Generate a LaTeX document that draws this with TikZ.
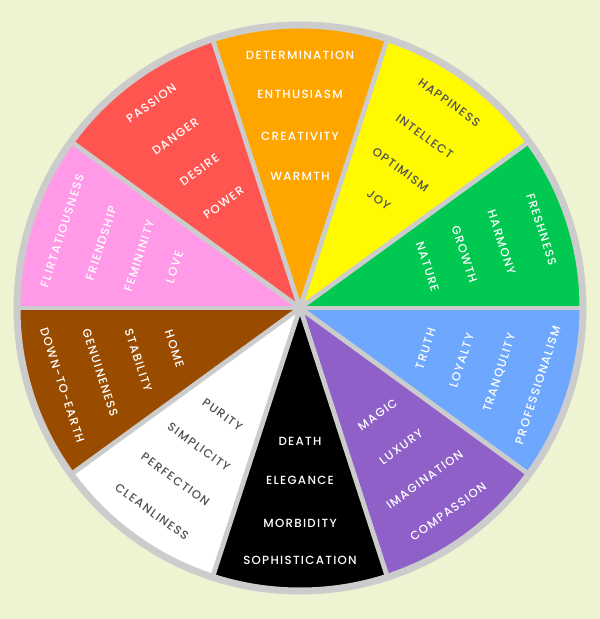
\documentclass[tikz,border=0pt]{standalone}
\usepackage{fontspec}
\setmainfont{Poppins Medium}[LetterSpace=11]
\definecolor{bg}{RGB}{238,243,210}
\definecolor{ring}{RGB}{204,204,204}
\definecolor{corange}{RGB}{255,165,0}
\definecolor{cred}{RGB}{255,85,80}
\definecolor{cpink}{RGB}{255,153,232}
\definecolor{cbrown}{RGB}{153,76,0}
\definecolor{cwhite}{RGB}{255,255,255}
\definecolor{cblack}{RGB}{0,0,0}
\definecolor{cpurple}{RGB}{142,96,200}
\definecolor{cblue}{RGB}{110,168,254}
\definecolor{cgreen}{RGB}{0,200,80}
\definecolor{cyellow}{RGB}{255,250,0}
\definecolor{darktext}{RGB}{80,80,80}
\tikzset{
  lbl/.style={font=\fontsize{11.8}{13}\selectfont, text=white, inner sep=0pt, anchor=center},
  dlbl/.style={lbl, text=darktext},
  sep/.style={draw=ring, line width=4.8pt},
}
\begin{document}
\begin{tikzpicture}[x=1pt,y=1pt]
\fill[bg] (0,0) rectangle (600,619);
\useasboundingbox (0,0) rectangle (600,619);
\begin{scope}[shift={(300,311)}]
\coordinate (c) at (0,0);
% sectors
\fill[corange] (c) -- (72:283) arc[start angle=72, end angle=108, radius=283] -- cycle;
\fill[cred]    (c) -- (108:283) arc[start angle=108, end angle=144, radius=283] -- cycle;
\fill[cpink]   (c) -- (144:283) arc[start angle=144, end angle=180, radius=283] -- cycle;
\fill[cbrown]  (c) -- (180:283) arc[start angle=180, end angle=216, radius=283] -- cycle;
\fill[cwhite]  (c) -- (216:283) arc[start angle=216, end angle=252, radius=283] -- cycle;
\fill[cblack]  (c) -- (252:283) arc[start angle=252, end angle=288, radius=283] -- cycle;
\fill[cpurple] (c) -- (288:283) arc[start angle=288, end angle=324, radius=283] -- cycle;
\fill[cblue]   (c) -- (324:283) arc[start angle=324, end angle=360, radius=283] -- cycle;
\fill[cgreen]  (c) -- (0:283) arc[start angle=0, end angle=36, radius=283] -- cycle;
\fill[cyellow] (c) -- (36:283) arc[start angle=36, end angle=72, radius=283] -- cycle;
% separators
\foreach \a in {0,36,...,324} { \draw[sep] (c) -- (\a:283); }
\draw[draw=ring, line width=7pt] (c) circle[radius=283];
% orange
\node[lbl] (o1) at (90:253) {DETERMINATION};
\node[lbl] (o2) at (90:214) {ENTHUSIASM};
\node[lbl] (o3) at (90:172) {CREATIVITY};
\node[lbl] (o4) at (90:132) {WARMTH};
% red
\node[lbl, rotate=36] (r1) at (126:253) {PASSION};
\node[lbl, rotate=36] (r2) at (126:212) {DANGER};
\node[lbl, rotate=36] (r3) at (126:171) {DESIRE};
\node[lbl, rotate=36] (r4) at (126:130) {POWER};
% pink
\node[lbl, rotate=72] (p1) at (162:250) {FLIRTATIOUSNESS};
\node[lbl, rotate=72] (p2) at (162:209) {FRIENDSHIP};
\node[lbl, rotate=72] (p3) at (162:169) {FEMININITY};
\node[lbl, rotate=72] (p4) at (162:132) {LOVE};
% brown
\node[lbl, rotate=-72] (b1) at (198:250) {DOWN-TO-EARTH};
\node[lbl, rotate=-72] (b2) at (198:210) {GENUINENESS};
\node[lbl, rotate=-72] (b3) at (198:170) {STABILITY};
\node[lbl, rotate=-72] (b4) at (198:132) {HOME};
% white
\node[dlbl, rotate=-36] (w1) at (234:252) {CLEANLINESS};
\node[dlbl, rotate=-36] (w2) at (234:212) {PERFECTION};
\node[dlbl, rotate=-36] (w3) at (234:172) {SIMPLICITY};
\node[dlbl, rotate=-36] (w4) at (234:132) {PURITY};
% black
\node[lbl] (k1) at (270:252) {SOPHISTICATION};
\node[lbl] (k2) at (270:215) {MORBIDITY};
\node[lbl] (k3) at (270:172) {ELEGANCE};
\node[lbl] (k4) at (270:133) {DEATH};
% purple
\node[lbl, rotate=36] (u1) at (306:252) {COMPASSION};
\node[lbl, rotate=36] (u2) at (306:212) {IMAGINATION};
\node[lbl, rotate=36] (u3) at (306:172) {LUXURY};
\node[lbl, rotate=36] (u4) at (306:132) {MAGIC};
% blue
\node[lbl, rotate=72] (l1) at (342:250) {PROFESSIONALISM};
\node[lbl, rotate=72] (l2) at (342:210) {TRANQULITY};
\node[lbl, rotate=72] (l3) at (342:170) {LOYALTY};
\node[lbl, rotate=72] (l4) at (342:132) {TRUTH};
% green
\node[lbl, rotate=-72] (g1) at (18:254) {FRESHNESS};
\node[lbl, rotate=-72] (g2) at (18:212) {HARMONY};
\node[lbl, rotate=-72] (g3) at (18:173) {GROWTH};
\node[lbl, rotate=-72] (g4) at (18:134) {NATURE};
% yellow
\node[dlbl, rotate=-36] (y1) at (54:254) {HAPPINESS};
\node[dlbl, rotate=-36] (y2) at (54:212) {INTELLECT};
\node[dlbl, rotate=-36] (y3) at (54:171) {OPTIMISM};
\node[dlbl, rotate=-36] (y4) at (54:134) {JOY};
\end{scope}
\end{tikzpicture}
\end{document}
